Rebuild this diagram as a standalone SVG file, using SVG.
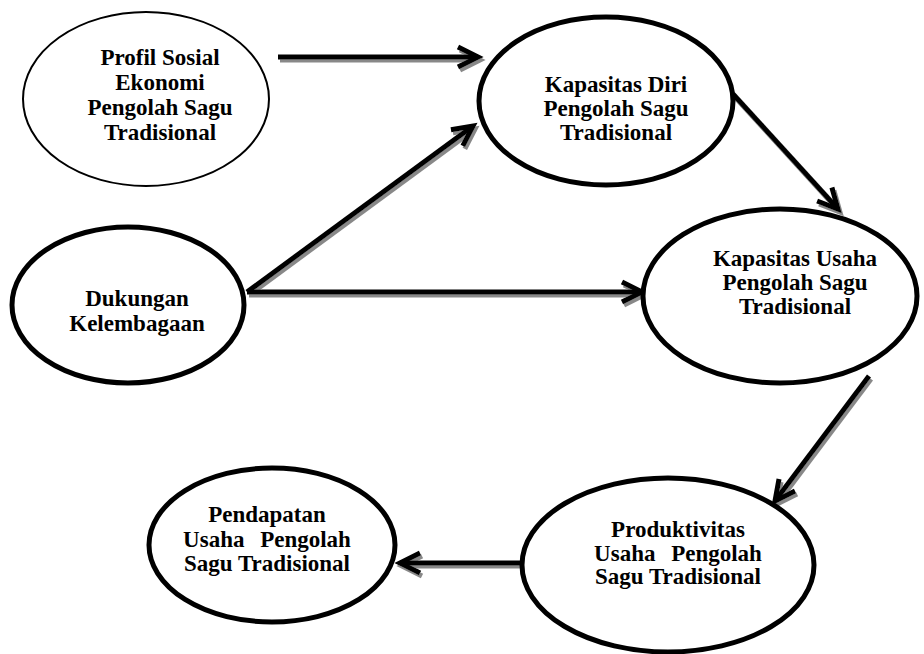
<svg xmlns="http://www.w3.org/2000/svg" width="924" height="654" viewBox="0 0 924 654">
<style>
.node ellipse{fill:#fff;stroke:#000;stroke-width:5}
.thin ellipse{stroke-width:2}
.node text{font-family:"Liberation Serif","Times New Roman",serif;font-weight:bold;font-size:23px;fill:#000;text-anchor:middle}
.wide{word-spacing:10px}
.conn line{stroke:#000;stroke-width:5;fill:none;marker-end:url(#head)}
</style>
<defs>
<marker id="head" markerUnits="userSpaceOnUse" markerWidth="40" markerHeight="40" viewBox="-30 -20 40 40" refX="0" refY="0" orient="auto" overflow="visible">
<path d="M-20,-10 L0,0 L-20,10" fill="none" stroke="#000" stroke-width="5" stroke-linejoin="miter"/>
</marker>
<filter id="shadow" x="-10%" y="-10%" width="130%" height="130%">
<feDropShadow dx="2" dy="3" stdDeviation="0.6" flood-color="#888" flood-opacity="1"/>
</filter>
</defs>
<rect width="924" height="654" fill="#fff"/>
<g id="connectors" class="conn" filter="url(#shadow)">
<line x1="278" y1="57" x2="478" y2="57"/>
<line x1="247" y1="292" x2="473" y2="126"/>
<line x1="247" y1="292" x2="642" y2="292"/>
<line x1="733" y1="94" x2="838" y2="209"/>
<line x1="869" y1="376" x2="775" y2="501"/>
<line x1="523" y1="563" x2="400" y2="563"/>
</g>
<g id="profil" class="node thin">
<ellipse cx="146" cy="99" rx="123" ry="87"/>
<text x="160" y="65">Profil Sosial</text>
<text x="160" y="90">Ekonomi</text>
<text x="160" y="115">Pengolah Sagu</text>
<text x="160" y="140">Tradisional</text>
</g>
<g id="kapasitas-diri" class="node">
<ellipse cx="606" cy="101" rx="127" ry="84"/>
<text x="616" y="92">Kapasitas Diri</text>
<text x="616" y="116">Pengolah Sagu</text>
<text x="616" y="140">Tradisional</text>
</g>
<g id="dukungan" class="node">
<ellipse cx="128" cy="305" rx="116" ry="78"/>
<text x="137" y="306">Dukungan</text>
<text x="137" y="331">Kelembagaan</text>
</g>
<g id="kapasitas-usaha" class="node">
<ellipse cx="780" cy="296" rx="137" ry="87"/>
<text x="795" y="266">Kapasitas Usaha</text>
<text x="795" y="290">Pengolah Sagu</text>
<text x="795" y="314">Tradisional</text>
</g>
<g id="pendapatan" class="node">
<ellipse cx="272" cy="545" rx="123" ry="77"/>
<text x="267" y="522">Pendapatan</text>
<text x="267" y="547" class="wide">Usaha Pengolah</text>
<text x="267" y="571">Sagu Tradisional</text>
</g>
<g id="produktivitas" class="node">
<ellipse cx="668" cy="565" rx="146" ry="87"/>
<text x="678" y="537">Produktivitas</text>
<text x="678" y="561" class="wide">Usaha Pengolah</text>
<text x="678" y="584">Sagu Tradisional</text>
</g>
</svg>
